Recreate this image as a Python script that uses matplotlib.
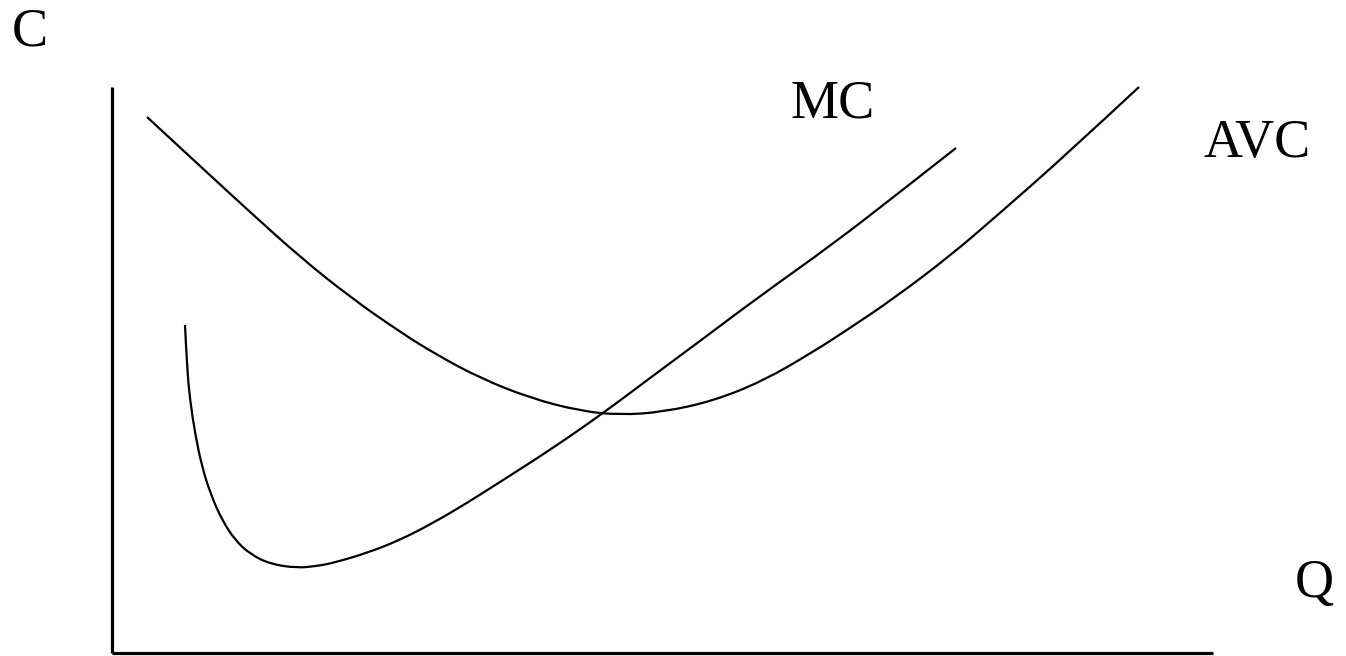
import matplotlib.pyplot as plt
from matplotlib.path import Path
from matplotlib.patches import PathPatch

# curve values (Q along the bottom, C up the side)
avc_q = [35, 88, 138, 188, 238, 288, 325, 368, 418, 468,
         508, 551, 601, 651, 701, 738, 781, 838, 888, 955, 1027]
avc_c = [536, 487, 441, 396, 356, 321, 298, 275, 255, 242,
         238, 241, 252, 272, 301, 325, 354, 397, 440, 499, 566]

mc_q = [73, 75, 78, 83, 90, 99, 110, 123, 138, 158, 185,
        205, 221, 255, 288, 321, 355, 388, 438, 490, 538, 588, 648, 721, 788, 844]
mc_c = [328, 286, 253, 220, 186, 158, 133, 113, 99, 89, 85,
        87, 90, 100, 113, 130, 150, 171, 203, 239, 275, 312, 357, 409, 461, 505]

q_max = 1101
c_max = 566


def smooth_curve(ax, xs, ys, **kw):
    # quadratic bezier through the midpoints, the read points act as handles
    pts = list(zip(xs, ys))
    verts = [pts[0]]
    codes = [Path.MOVETO]
    for i in range(1, len(pts) - 1):
        mid = ((pts[i][0] + pts[i + 1][0]) / 2, (pts[i][1] + pts[i + 1][1]) / 2)
        if i == len(pts) - 2:
            mid = pts[-1]
        verts += [pts[i], mid]
        codes += [Path.CURVE3, Path.CURVE3]
    ax.add_patch(PathPatch(Path(verts, codes), fill=False, **kw))


fig = plt.figure(figsize=(13.46, 6.56), dpi=100)
ax = fig.add_axes([0, 0, 1, 1])
ax.set_xlim(-112, 1234)
ax.set_ylim(-3, 653)
ax.axis("off")

# axes
ax.plot([0, 0], [0, c_max], color="black", lw=2.3, solid_capstyle="butt")
ax.plot([0, q_max], [0, 0], color="black", lw=2.3, solid_capstyle="butt")

# curves
smooth_curve(ax, avc_q, avc_c, color="black", lw=1.6)
smooth_curve(ax, mc_q, mc_c, color="black", lw=1.6)

font = dict(family="Liberation Serif", fontsize=39, va="baseline", ha="left")
ax.text(-100, 608, "C", **font)
ax.text(678, 535, "MC", **font)
ax.text(1091, 496, "AVC", **font)
ax.text(1183, 56, "Q", **font)

fig.savefig("out.png", dpi=100, facecolor="white")
